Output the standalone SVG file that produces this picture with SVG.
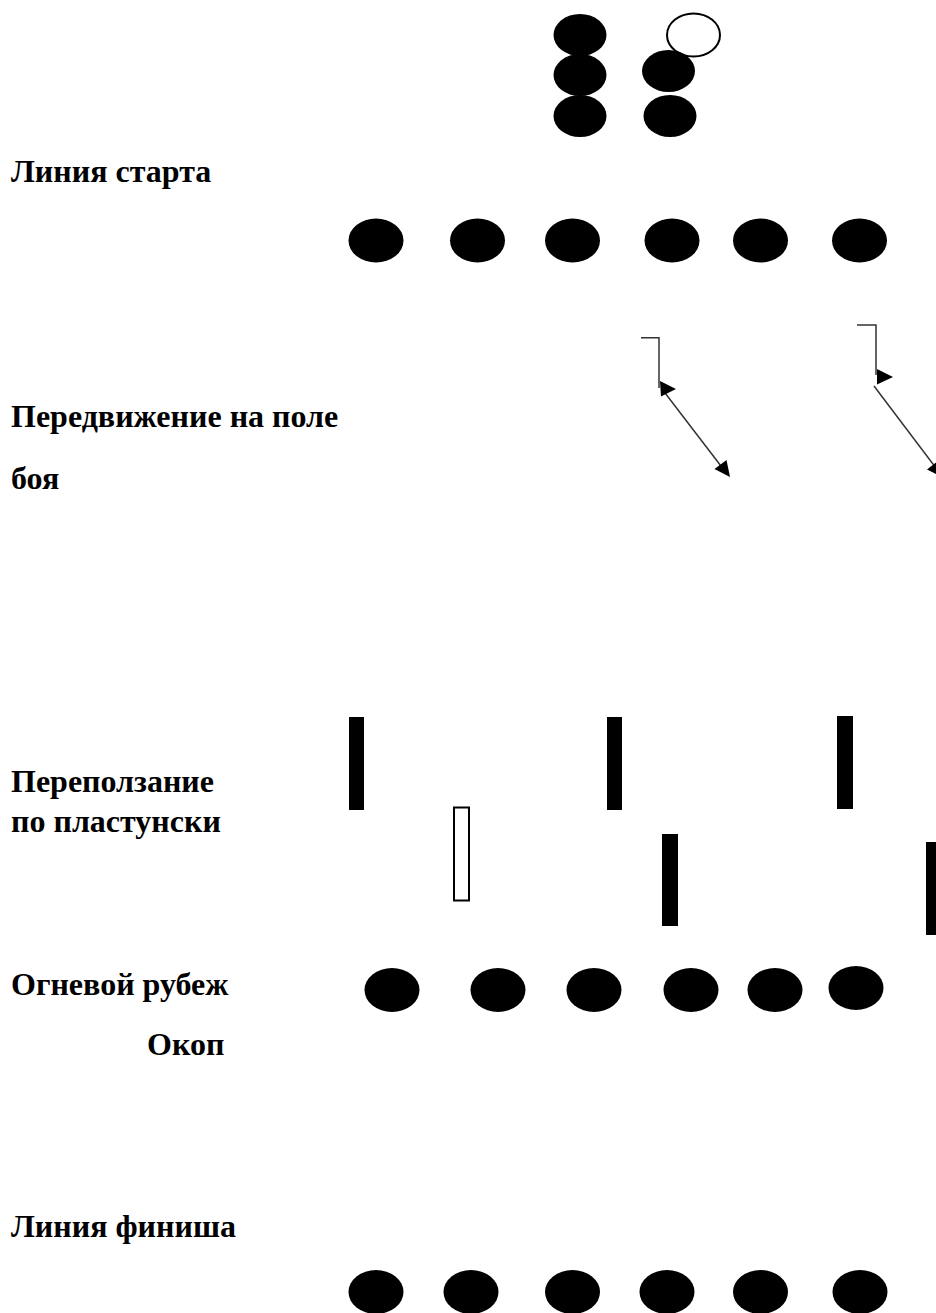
<svg xmlns="http://www.w3.org/2000/svg" width="936" height="1313" viewBox="0 0 936 1313">
<style>
.lbl{font-family:"Liberation Serif","Times New Roman",serif;font-weight:bold;font-size:32px;fill:#000}
.dot{fill:#000}
.open{fill:none;stroke:#000;stroke-width:2}
.bar{fill:#000}
.ln{stroke:#333;stroke-width:1.5;fill:none}
.head{fill:#000}
</style>
<rect width="936" height="1313" fill="#fff"/>

<g id="labels">
<text class="lbl" x="11" y="182">Линия старта</text>
<text class="lbl" x="11" y="427">Передвижение на поле</text>
<text class="lbl" x="11" y="489">боя</text>
<text class="lbl" x="11" y="792">Переползание</text>
<text class="lbl" x="11" y="832">по пластунски</text>
<text class="lbl" x="11" y="995">Огневой рубеж</text>
<text class="lbl" x="147" y="1055">Окоп</text>
<text class="lbl" x="11" y="1237">Линия финиша</text>
</g>

<g id="start-group">
<ellipse class="dot" cx="580" cy="35" rx="26.5" ry="21"/>
<ellipse class="dot" cx="580" cy="75" rx="26.5" ry="21"/>
<ellipse class="dot" cx="580" cy="116" rx="26.5" ry="21"/>
<ellipse class="open" cx="693.5" cy="35" rx="26.5" ry="21.5"/>
<ellipse class="dot" cx="668.5" cy="71" rx="26.5" ry="21"/>
<ellipse class="dot" cx="670" cy="116" rx="26.5" ry="21"/>
</g>

<g id="start-line">
<ellipse class="dot" cx="376" cy="240.5" rx="27.5" ry="22"/>
<ellipse class="dot" cx="477.5" cy="240.5" rx="27.5" ry="22"/>
<ellipse class="dot" cx="572.5" cy="240.5" rx="27.5" ry="22"/>
<ellipse class="dot" cx="672" cy="240.5" rx="27.5" ry="22"/>
<ellipse class="dot" cx="760.5" cy="240.5" rx="27.5" ry="22"/>
<ellipse class="dot" cx="859.5" cy="240.5" rx="27.5" ry="22"/>
</g>

<g id="connectors">
<polyline class="ln" points="641,337.7 659,337.7 659,388"/>
<line class="ln" x1="662" y1="389" x2="724" y2="470"/>
<polygon class="head" points="660,381 676,389 661,396.5"/>
<polygon class="head" points="730,477 714.5,469 726.5,460"/>
<polyline class="ln" points="857,325 876,325 876,375"/>
<line class="ln" x1="874" y1="386" x2="936" y2="468"/>
<polygon class="head" points="877,369 893,377 877,384.5"/>
<polygon class="head" points="942,477 927,469.5 938.6,460.5"/>
</g>

<g id="obstacles">
<rect class="bar" x="349" y="717" width="15" height="93"/>
<rect class="bar" x="607" y="717" width="15" height="93"/>
<rect class="bar" x="837" y="716" width="16" height="93"/>
<rect class="open" x="454" y="807.5" width="15" height="93"/>
<rect class="bar" x="662" y="834" width="16" height="92"/>
<rect class="bar" x="926" y="842" width="12" height="93"/>
</g>

<g id="firing-line">
<ellipse class="dot" cx="392" cy="990" rx="27.5" ry="22"/>
<ellipse class="dot" cx="498" cy="990" rx="27.5" ry="22"/>
<ellipse class="dot" cx="594" cy="990" rx="27.5" ry="22"/>
<ellipse class="dot" cx="691" cy="990" rx="27.5" ry="22"/>
<ellipse class="dot" cx="775" cy="990" rx="27.5" ry="22"/>
<ellipse class="dot" cx="856" cy="988" rx="27.5" ry="22"/>
</g>

<g id="finish-line">
<ellipse class="dot" cx="376" cy="1292" rx="27.5" ry="22"/>
<ellipse class="dot" cx="471" cy="1292" rx="27.5" ry="22"/>
<ellipse class="dot" cx="572.5" cy="1292" rx="27.5" ry="22"/>
<ellipse class="dot" cx="667" cy="1292" rx="27.5" ry="22"/>
<ellipse class="dot" cx="760.5" cy="1292" rx="27.5" ry="22"/>
<ellipse class="dot" cx="860" cy="1292" rx="27.5" ry="22"/>
</g>
</svg>
